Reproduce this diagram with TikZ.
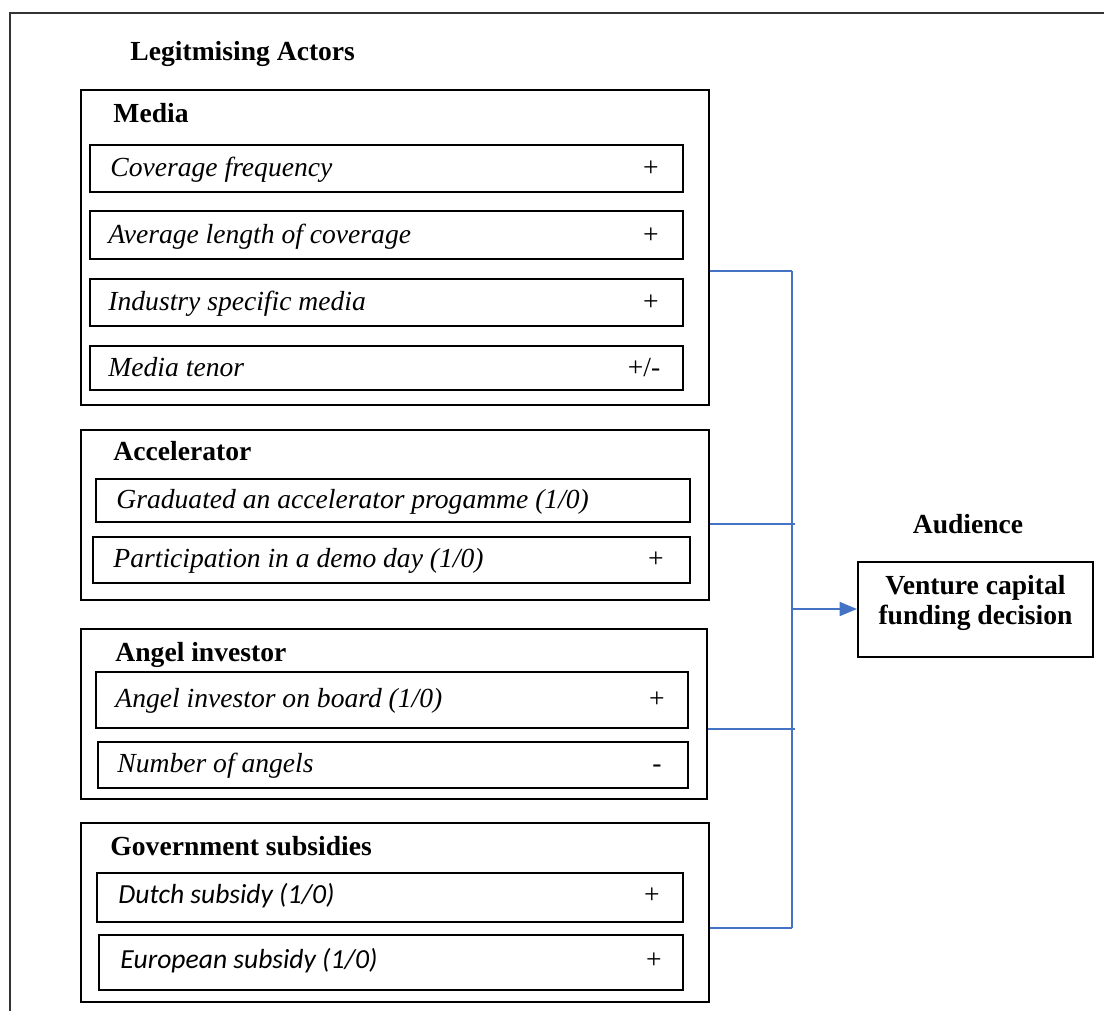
\documentclass[tikz,border=0pt]{standalone}
\usepackage{fontspec}
\setmainfont{Liberation Serif}
\newfontfamily\calibri{Carlito}
\usetikzlibrary{arrows.meta,fit}
\definecolor{linkblue}{RGB}{68,114,196}
\def\pxu{0.435pt}

\begin{document}
\fontsize{12}{13}\selectfont
\begin{tikzpicture}[x=\pxu, y=-\pxu,
	grpbox/.style={draw, line width=0.9pt, inner sep=0pt},
	itembox/.style={draw, line width=0.8pt, inner sep=0pt},
	head/.style={anchor=base west, font=\bfseries, inner sep=0pt},
	itemtxt/.style={anchor=base west, font=\itshape, inner sep=0pt},
	sign/.style={anchor=base, inner sep=0pt},
	conn/.style={draw=linkblue, line width=0.9pt}]
		%%%%% START %%%%%
		\useasboundingbox (0,0) rectangle (1104,1010);
		\clip (0,0) rectangle (1104,1010);
		
		\draw[line width=0.9pt, black!80] (10,1030) -- (10,13) -- (1130,13);
		
		\node[head] (actors) at (130,60) {Legitmising Actors};
		
		% media
		\node[grpbox, fit={(81,90) (709,405)}] (media) {};
		\node[head] (mediahd) at (113,122) {Media};
		\node[itembox, fit={(90,145) (683,192)}] (m1) {};
		\node[itemtxt] (m1t) at (110,176) {Coverage frequency};
		\node[sign] (m1s) at (651,176) {+};
		\node[itembox, fit={(90,211) (683,259)}] (m2) {};
		\node[itemtxt] (m2t) at (108,243) {Average length of coverage};
		\node[sign] (m2s) at (651,243) {+};
		\node[itembox, fit={(90,279) (683,326)}] (m3) {};
		\node[itemtxt] (m3t) at (108,310) {Industry specific media};
		\node[sign] (m3s) at (651,310) {+};
		\node[itembox, fit={(90,346) (683,390)}] (m4) {};
		\node[itemtxt] (m4t) at (108,376) {Media tenor};
		\node[sign] (m4s) at (644,376) {+/-};
		
		% accelerator
		\node[grpbox, fit={(81,430) (709,600)}] (accel) {};
		\node[head] (accelhd) at (113,460) {Accelerator};
		\node[itembox, fit={(96,479) (690,522)}] (a1) {};
		\node[itemtxt] (a1t) at (116,508) {Graduated an accelerator progamme (1/0)};
		\node[itembox, fit={(93,537) (690,583)}] (a2) {};
		\node[itemtxt] (a2t) at (113,567) {Participation in a demo day (1/0)};
		\node[sign] (a2s) at (656,567) {+};
		
		% angel investor
		\node[grpbox, fit={(81,629) (707,799)}] (angel) {};
		\node[head] (angelhd) at (115,661) {Angel investor};
		\node[itembox, fit={(96,672) (688,728)}] (n1) {};
		\node[itemtxt] (n1t) at (115,707) {Angel investor on board (1/0)};
		\node[sign] (n1s) at (657,707) {+};
		\node[itembox, fit={(98,742) (688,788)}] (n2) {};
		\node[itemtxt] (n2t) at (117,772) {Number of angels};
		\node[sign] (n2s) at (657,772) {-};
		
		% government subsidies
		\node[grpbox, fit={(81,823) (709,1002)}] (govt) {};
		\node[head] (govthd) at (110,855) {Government subsidies};
		\node[itembox, fit={(97,873) (683,922)}] (g1) {};
		\node[itemtxt, font=\calibri\itshape] (g1t) at (118,903) {Dutch subsidy (1/0)};
		\node[sign] (g1s) at (652,903) {+};
		\node[itembox, fit={(99,935) (683,990)}] (g2) {};
		\node[itemtxt, font=\calibri\itshape] (g2t) at (120,968) {European subsidy (1/0)};
		\node[sign] (g2s) at (654,968) {+};
		
		% audience
		\node[head, anchor=base] (audhd) at (968,533) {Audience};
		\node[grpbox, fit={(858,562) (1093,657)}] (audience) {};
		\node[anchor=north, align=center, font=\bfseries, inner sep=0pt] (audtxt) at (975.5,575) {Venture capital\\funding decision};
		
		% connectors
		\coordinate (bmedia) at (792,271);
		\coordinate (baccel) at (792,524);
		\coordinate (bangel) at (792,729);
		\coordinate (bgovt) at (792,928);
		\coordinate (barrow) at (792,609);
		\draw[conn] (media.east |- bmedia) -- (bmedia);
		\draw[conn] (accel.east |- baccel) -- ([xshift=3*\pxu]baccel);
		\draw[conn] (angel.east |- bangel) -- ([xshift=3*\pxu]bangel);
		\draw[conn] (govt.east |- bgovt) -- (bgovt);
		\draw[conn, line width=1.2pt] (bmedia) -- (bgovt);
		\draw[conn, -{Triangle[length=7.5pt,width=6pt]}, color=linkblue] (barrow) -- (audience.west |- barrow);
		%%%%% END %%%%%
\end{tikzpicture}
\end{document}
